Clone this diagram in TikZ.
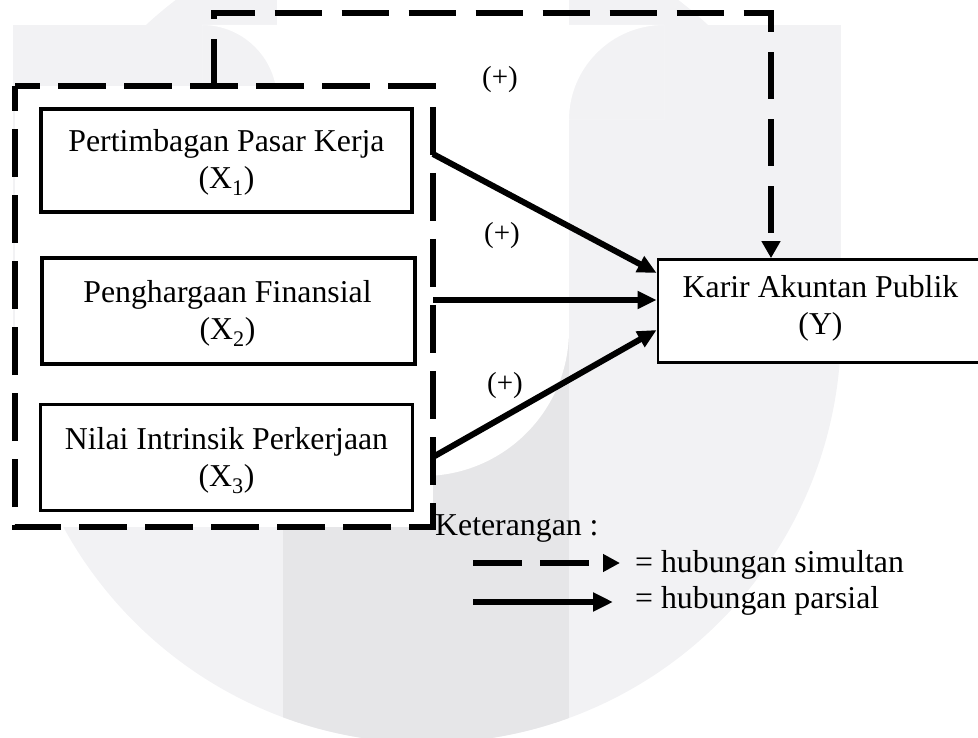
\documentclass[tikz,border=0pt]{standalone}
\usepackage{fontspec}
\setmainfont{Liberation Serif}
\usetikzlibrary{arrows.meta}
\definecolor{wmlight}{RGB}{242,242,244}
\definecolor{wmdark}{RGB}{230,230,232}
\tikzset{
  varbox/.style={draw=black, fill=white, inner sep=0pt},
  txt/.style={font=\fontsize{31.8}{37}\selectfont, align=center, inner sep=0pt},
  legtxt/.style={font=\fontsize{31.8}{37}\selectfont, inner sep=0pt, anchor=base west},
  plus/.style={font=\fontsize{29}{34}\selectfont, inner sep=0pt},
  partial/.style={line width=6pt, -{Triangle[length=19pt,width=17pt]}},
  simul/.style={line width=6pt, dash pattern=on 47pt off 20pt, -{Triangle[length=17pt,width=18pt]}},
  grpline/.style={line width=6pt, dash pattern=on 48pt off 18pt, dash phase=23pt},
}
\begin{document}
\begin{tikzpicture}[x=1pt, y=-1pt]
\useasboundingbox (0,0) rectangle (978,738);
% watermark
\fill[wmlight] (13,25) rectangle (841,329);
\fill[wmlight] (427,329) circle[radius=414];
\begin{scope}
  \clip (427,329) circle[radius=414];
  \fill[wmdark] (283,329) rectangle (569,760);
\end{scope}
\fill[white] (277,0) rectangle (569,330);
\fill[white] (423,330) circle[radius=146];
\begin{scope}
  \clip (202,25) rectangle (277,100);
  \fill[white, even odd rule] (202,25) rectangle (277,100) (202,100) circle[radius=75];
\end{scope}
\begin{scope}
  \clip (569,25) rectangle (664,120);
  \fill[white, even odd rule] (569,25) rectangle (664,120) (664,120) circle[radius=95];
\end{scope}
% group
\node[fill=white, minimum width=418pt, minimum height=441pt, inner sep=0pt, outer sep=0pt] (grp) at (224,306.5) {};
\draw[grpline] (grp.north west) -- (grp.north east) -- (grp.south east) -- (grp.south west) -- cycle;
% boxes
\node[varbox, line width=4.3pt, minimum width=371pt, minimum height=103pt] (x1) at (226.5,160.5) {};
\node[txt] (x1t) at (226.5,162.75) {Pertimbagan Pasar Kerja\\(X\textsubscript{1})};
\node[varbox, line width=4.3pt, minimum width=373pt, minimum height=106pt] (x2) at (228.5,311) {};
\node[txt] (x2t) at (227.5,313.75) {Penghargaan Finansial\\(X\textsubscript{2})};
\node[varbox, line width=2.7pt, minimum width=372pt, minimum height=106pt] (x3) at (226.5,457.5) {};
\node[txt] (x3t) at (226.5,460.75) {Nilai Intrinsik Perkerjaan\\(X\textsubscript{3})};
\node[varbox, line width=2.7pt, minimum width=324pt, minimum height=103pt] (y) at (820,311) {};
\node[txt] (yt) at (820.5,308.75) {Karir Akuntan Publik\\(Y)};
% labels
\node[plus] (p1) at (500,80) {(+)};
\node[plus] (p2) at (502,236) {(+)};
\node[plus] (p3) at (505,386) {(+)};
% connectors
\draw[simul] ([xshift=-10.5pt]grp.north) -- ++(0,-73) -| ([xshift=-49pt]y.north);
\draw[partial] ([yshift=152.5pt]grp.east) -- ([yshift=38pt]y.west);
\draw[partial] ([yshift=6.5pt]grp.east) -- ([yshift=11pt]y.west);
\draw[partial] ([yshift=-150.5pt]grp.east) -- ([yshift=-19pt]y.west);
% legend
\node[legtxt] (ket) at (435,535) {Keterangan :};
\node[legtxt] (ls) at (635,572) {= hubungan simultan};
\node[legtxt] (lp) at (635,608) {= hubungan parsial};
\coordinate (ld1) at (473,563);
\coordinate (ld2) at (620,563);
\draw[line width=6pt, dash pattern=on 49pt off 18pt, -{Triangle[length=17pt,width=17pt]}] (ld1) -- (ld2);
\coordinate (lp1) at (473,602);
\coordinate (lp2) at (613,602);
\draw[line width=6pt, -{Triangle[length=20pt,width=18pt]}] (lp1) -- (lp2);
\end{tikzpicture}
\end{document}
